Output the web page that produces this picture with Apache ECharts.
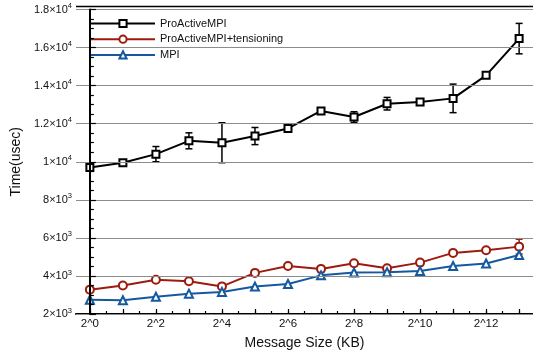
<!DOCTYPE html>
<html>
<head>
<meta charset="utf-8">
<script src="https://cdn.jsdelivr.net/npm/echarts@6/dist/echarts.min.js"></script>
<style>html,body{margin:0;padding:0;background:#fff}#c{width:533px;height:356px}</style>
</head>
<body>
<div id="c"></div>
<script>
// exponents of message size (2^k KB)
const exponents = [0,1,2,3,4,5,6,7,8,9,10,11,12,13];
const xLabelValues = [0,2,4,6,8,10,12];
const yTicks = [2000,4000,6000,8000,10000,12000,14000,16000,18000];

const proActive = [9700,9950,10400,11100,11000,11350,11750,12670,12350,13050,13140,13330,14540,16470];
const proActiveErr = [0,0,400,420,1050,450,0,150,280,330,0,750,120,800];

const tensioning = [3280,3500,3800,3720,3450,4160,4520,4370,4670,4400,4700,5210,5350,5540];
const tensioningErr = [0,0,0,0,0,130,110,0,0,0,0,0,0,390];

const mpi = [2750,2720,2910,3070,3160,3440,3580,4030,4180,4200,4260,4520,4650,5100];
const mpiErr = [0,0,0,0,0,0,0,150,0,0,0,0,0,0];

const names = ['ProActiveMPI','ProActiveMPI+tensioning','MPI'];
const colors = ['#000000','#9c1b0e','#1459a0'];
const symbols = ['emptyRect','emptyCircle','emptyTriangle'];
const symbolSizes = [7,8,8];
const values = [proActive, tensioning, mpi];
const errs = [proActiveErr, tensioningErr, mpiErr];

const halfTicks = [];
for (let i = 0; i < exponents.length; i++) { halfTicks.push(exponents[i]); if (i < exponents.length-1) halfTicks.push(exponents[i]+0.5); }

const chart = echarts.init(document.getElementById('c'), null, {renderer:'canvas'});
const font = 'Liberation Sans, Arial, Helvetica, sans-serif';

function yFmt(v){
  let e, m;
  if (v >= 10000) { e = 4; m = v/10000; } else { e = 3; m = v/1000; }
  return '{b|' + (+m.toFixed(1)) + '×10}{s|' + e + '}';
}

const series = [];
for (let k = 0; k < 3; k++) {
  const errData = [];
  for (let i = 0; i < exponents.length; i++) if (errs[k][i] > 0) errData.push([exponents[i], values[k][i], errs[k][i]]);
  series.push({
    type:'custom', name: names[k] + ' err', z: 2, silent: true,
    data: errData,
    renderItem: (function(col){ return function(params, api){
      const x = api.value(0), y = api.value(1), e = api.value(2);
      const t = api.coord([x, y+e]), b = api.coord([x, y-e]);
      const w = 3.5;
      const st = {stroke: col, lineWidth: 1.5};
      return {type:'group', children:[
        {type:'line', shape:{x1:t[0],y1:t[1],x2:b[0],y2:b[1]}, style:st},
        {type:'line', shape:{x1:t[0]-w,y1:t[1],x2:t[0]+w,y2:t[1]}, style:st},
        {type:'line', shape:{x1:b[0]-w,y1:b[1],x2:b[0]+w,y2:b[1]}, style:st}
      ]};
    };})(colors[k])
  });
}
for (let k = 0; k < 3; k++) {
  series.push({
    type:'line', name: names[k], z: 3,
    data: exponents.map((x,i)=>[x, values[k][i]]),
    symbol: symbols[k], symbolSize: symbolSizes[k], showAllSymbol: true,
    color: colors[k],
    lineStyle:{color: colors[k], width: 2},
    itemStyle:{color: colors[k], borderColor: colors[k], borderWidth: 2},
    emphasis:{disabled:true}, animation:false
  });
}

chart.setOption({
  animation:false,
  backgroundColor:'#fff',
  textStyle:{fontFamily: font},
  grid:{left:76, right:0, top:9.5, bottom:42, containLabel:false},
  legend:{
    data: names, orient:'vertical', left:88, top:13.5, padding:[4,6,4,2],
    backgroundColor:'#fff', z:1,
    itemWidth:64, itemHeight:9, itemGap:3.7,
    textStyle:{fontSize:11, color:'#111', fontFamily: font, lineHeight:12}
  },
  xAxis:[{
    type:'value', min:-0.42, max:13.42,
    name:'Message Size (KB)', nameLocation:'middle', nameGap:22,
    nameTextStyle:{fontSize:14, color:'#111', fontFamily: font},
    axisLine:{show:true, onZero:false, lineStyle:{color:'#000', width:2}},
    axisTick:{show:true, inside:true, length:5, customValues: exponents, lineStyle:{color:'#000', width:1.2}},
    axisLabel:{customValues: xLabelValues, formatter: v => '2^' + v, fontSize:11.5, color:'#111', margin:4, fontFamily: font},
    splitLine:{show:false}
  },{
    type:'value', min:-0.42, max:13.42, position:'bottom',
    axisLine:{show:false},
    axisTick:{show:true, inside:true, length:3, customValues: halfTicks, lineStyle:{color:'#000', width:1.2}},
    axisLabel:{show:false}, splitLine:{show:false}
  }],
  yAxis:{
    type:'value', min:2000, max:18000, interval:2000, z:5,
    name:'Time(usec)', nameLocation:'middle', nameGap:42,
    nameTextStyle:{fontSize:14, color:'#111', fontFamily: font},
    axisLine:{show:true, lineStyle:{color:'#000', width:2}},
    axisTick:{show:true, inside:true, length:6, lineStyle:{color:'#000', width:1.2}},
    minorTick:{show:true, splitNumber:4, length:4, lineStyle:{color:'#000', width:1.2}},
    splitLine:{show:true, lineStyle:{color:'#8c8c8c', width:1}},
    axisLabel:{
      formatter: yFmt, margin:4,
      rich:{
        b:{fontSize:11, color:'#111', fontFamily: font},
        s:{fontSize:7.5, color:'#111', fontFamily: font, padding:[0,0,7,0]}
      }
    }
  },
  graphic:[{type:'line', shape:{x1:76, y1:6.5, x2:533, y2:6.5}, style:{stroke:'#000', lineWidth:1.5}, z:10}],
  series: series
});
</script>
</body>
</html>
